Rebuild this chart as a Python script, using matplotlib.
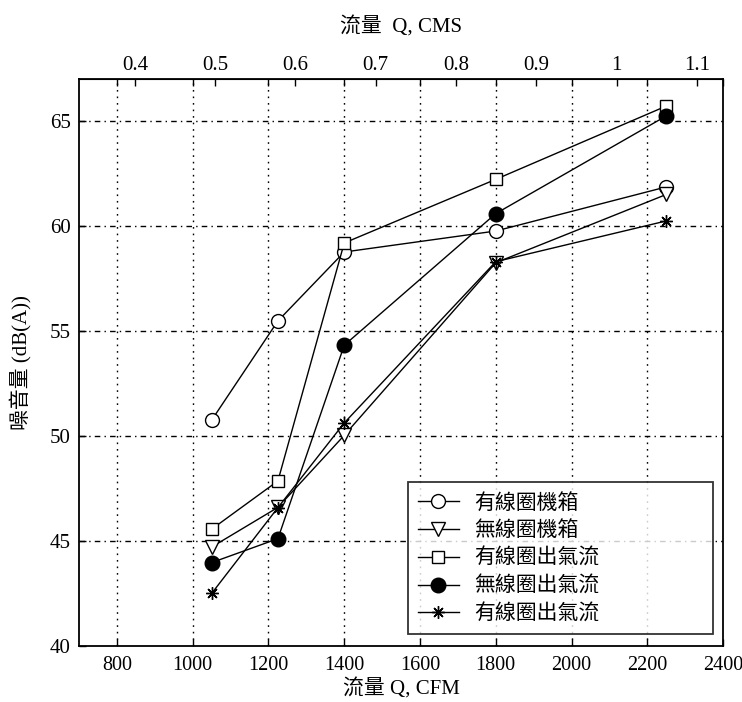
import numpy as np
import matplotlib.pyplot as plt

plt.rcParams['font.family'] = ['Liberation Serif', 'Noto Sans CJK TC']

# -------------------------- DATA --------------------------
flow_cfm = [1050, 1225, 1400, 1800, 2250]

coil_case = [50.75, 55.48, 58.76, 59.76, 61.86]      # 有線圈機箱
nocoil_case = [44.71, 46.6, 50.03, 58.25, 61.5]      # 無線圈機箱
coil_outlet = [45.56, 47.86, 59.19, 62.22, 65.71]    # 有線圈出氣流
nocoil_outlet = [43.97, 45.11, 54.32, 60.59, 65.24]  # 無線圈出氣流
coil_outlet2 = [42.5, 46.59, 50.62, 58.3, 60.24]     # 有線圈出氣流 (*)

labels = ['有線圈機箱', '無線圈機箱', '有線圈出氣流', '無線圈出氣流', '有線圈出氣流']

cfm_ticks = [800, 1000, 1200, 1400, 1600, 1800, 2000, 2200, 2400]
cms_ticks = [0.4, 0.5, 0.6, 0.7, 0.8, 0.9, 1.0, 1.1]
db_ticks = [40, 45, 50, 55, 60, 65]

CFM_PER_CMS = 2118.88

# -------------------------- PLOT --------------------------
fig = plt.figure(figsize=(7.42, 7.02), dpi=100)
ax = fig.add_axes([0.1065, 0.0798, 0.868, 0.8077])

ax.plot(flow_cfm, coil_case, '-o', color='black', lw=1.0, ms=10,
        mfc='white', mec='black', mew=1.0, label=labels[0])
ax.plot(flow_cfm, nocoil_case, '-v', color='black', lw=1.0, ms=10,
        mfc='white', mec='black', mew=1.0, label=labels[1])
ax.plot(flow_cfm, coil_outlet, '-s', color='black', lw=1.0, ms=8,
        mfc='white', mec='black', mew=1.0, label=labels[2])
ax.plot(flow_cfm, nocoil_outlet, '-o', color='black', lw=1.0, ms=10.5,
        mfc='black', mec='black', label=labels[3])
ax.plot(flow_cfm, coil_outlet2, '-', color='black', lw=1.0, ms=9,
        marker=(8, 2, 0), mec='black', mew=1.0, label=labels[4])

ax.set_xlim(700, 2400)
ax.set_ylim(40, 67)
ax.set_xticks(cfm_ticks)
ax.set_yticks(db_ticks)
ax.tick_params(direction='in', length=5, width=1, labelsize=15, top=True)
ax.tick_params(axis='x', pad=7, labelsize=14.5)
ax.tick_params(axis='y', pad=6)

# grid: dotted vertical, dash-dot horizontal
for x in cfm_ticks[:-1]:
    ax.axvline(x, color='black', lw=1.0, ls=(0, (1.2, 3.5)), zorder=0)
for y in db_ticks[1:]:
    ax.axhline(y, color='black', lw=1.0, ls=(0, (4, 3, 1, 3)), zorder=0)

for sp in ax.spines.values():
    sp.set_linewidth(1.3)

ax.set_xlabel('流量 Q, CFM', fontsize=15, labelpad=3)
ax.set_ylabel('噪音量 (dB(A))', fontsize=15, labelpad=13)

# top axis in CMS
sec = ax.secondary_xaxis('top', functions=(lambda c: c / CFM_PER_CMS,
                                           lambda q: q * CFM_PER_CMS))
sec.set_xticks(cms_ticks)
sec.set_xticklabels(['0.4', '0.5', '0.6', '0.7', '0.8', '0.9', '1', '1.1'])
sec.tick_params(direction='in', length=5, width=1, labelsize=15, pad=3)
sec.set_xlabel('流量  Q, CMS', fontsize=15, labelpad=17)

leg = ax.legend(loc='lower left', bbox_to_anchor=(0.511, 0.021, 0.473, 0.252),
                mode='expand', frameon=True, fancybox=False, edgecolor='black',
                handlelength=2.0, handletextpad=0.7, labelspacing=0.28,
                borderpad=0.45, borderaxespad=0,
                prop={'family': ['Noto Sans CJK TC'], 'size': 15})
leg.get_frame().set_linewidth(1.3)

plt.savefig('out.png', dpi=100)
